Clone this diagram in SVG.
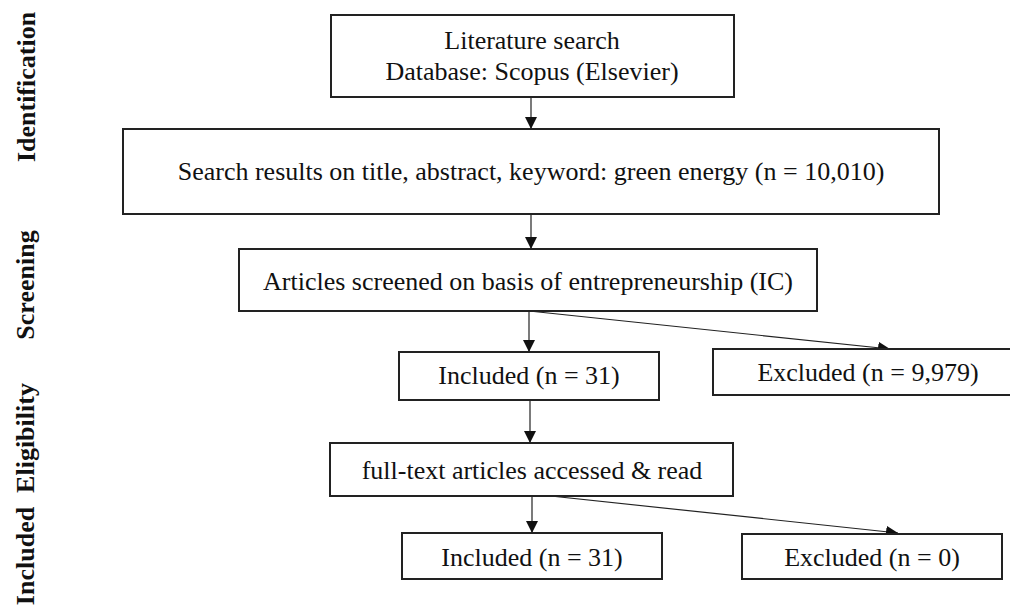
<svg xmlns="http://www.w3.org/2000/svg" width="1010" height="608" viewBox="0 0 1010 608">
<defs>
<style>
.box{fill:#fff;stroke:#222;stroke-width:2}
.t{font-family:"Liberation Serif","Times New Roman",serif;font-size:26px;fill:#111;text-anchor:middle}
.side{font-family:"Liberation Serif","Times New Roman",serif;font-size:26px;font-weight:bold;fill:#111;text-anchor:middle}
.c{stroke:#222;stroke-width:1.2;fill:none}
</style>
<marker id="ah" markerWidth="12" markerHeight="12" refX="12" refY="6" orient="auto" markerUnits="userSpaceOnUse">
<path d="M0,0 L12,6 L0,12 Z" fill="#111"/>
</marker>
</defs>
<rect width="1010" height="608" fill="#fff"/>
<g id="labels">
<text class="side" transform="translate(35,87) rotate(-90)">Identification</text>
<text class="side" transform="translate(34,285) rotate(-90)">Screening</text>
<text class="side" transform="translate(34,438) rotate(-90)">Eligibility</text>
<text class="side" transform="translate(34,556) rotate(-90)">Included</text>
</g>
<g id="connectors">
<line class="c" x1="531" y1="97" x2="531" y2="129" marker-end="url(#ah)"/>
<line class="c" x1="531" y1="214" x2="531" y2="249" marker-end="url(#ah)"/>
<line class="c" x1="529" y1="311" x2="529" y2="352" marker-end="url(#ah)"/>
<line class="c" x1="529" y1="311" x2="890" y2="349" marker-end="url(#ah)"/>
<line class="c" x1="530" y1="400" x2="530" y2="443" marker-end="url(#ah)"/>
<line class="c" x1="532" y1="494" x2="532" y2="533" marker-end="url(#ah)"/>
<line class="c" x1="532" y1="494" x2="898" y2="533" marker-end="url(#ah)"/>
</g>
<g id="n1">
<rect class="box" x="331" y="15" width="403" height="82"/>
<text class="t" x="532" y="49">Literature search</text>
<text class="t" x="532" y="80">Database: Scopus (Elsevier)</text>
</g>
<g id="n2">
<rect class="box" x="123" y="129" width="816" height="85"/>
<text class="t" x="531" y="180">Search results on title, abstract, keyword: green energy (n = 10,010)</text>
</g>
<g id="n3">
<rect class="box" x="239" y="249" width="578" height="62"/>
<text class="t" x="528" y="290">Articles screened on basis of entrepreneurship (IC)</text>
</g>
<g id="n4">
<rect class="box" x="399" y="352" width="260" height="48"/>
<text class="t" x="529" y="384">Included (n = 31)</text>
</g>
<g id="n5">
<rect class="box" x="713" y="349" width="310" height="46"/>
<text class="t" x="868" y="381">Excluded (n = 9,979)</text>
</g>
<g id="n6">
<rect class="box" x="330" y="443" width="403" height="53"/>
<text class="t" x="532" y="479">full-text articles accessed &amp; read</text>
</g>
<g id="n7">
<rect class="box" x="402" y="533" width="260" height="46"/>
<text class="t" x="532" y="566">Included (n = 31)</text>
</g>
<g id="n8">
<rect class="box" x="742" y="534" width="260" height="45"/>
<text class="t" x="872" y="566">Excluded (n = 0)</text>
</g>
</svg>
